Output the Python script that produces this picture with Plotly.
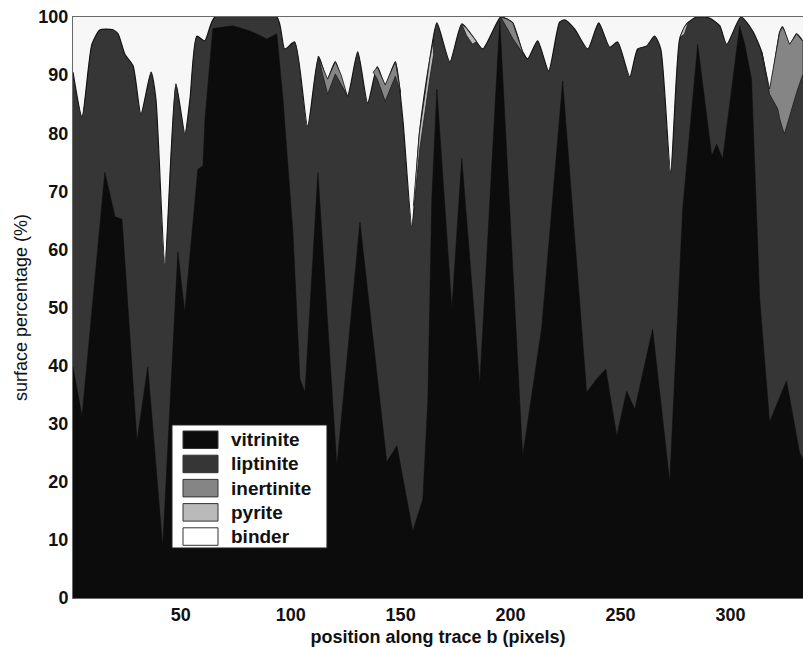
import plotly.graph_objects as go

# Position along trace b (pixels) and cumulative surface percentages.

# Upper edge of all macerals + pyrite (binder fills the rest up to 100 %)
top_x = [1.0, 5.1, 9.6, 13.3, 19.2, 21.5, 24.6, 28.3, 31.9, 36.5, 38.7, 42.8, 47.8,
         51.9, 54.2, 57.3, 60.9, 65.5, 93.7, 97.3, 101.8, 107.7, 112.7, 116.6, 120.3,
         125.8, 130.5, 135.0, 139.4, 143.0, 147.6, 151.0, 155.1, 158.6, 163.3, 166.5,
         172.4, 177.8, 182.7, 187.3, 195.5, 198.7, 201.0, 203.3, 205.5, 207.8, 212.3,
         217.3, 222.3, 224.6, 229.2, 235.1, 240.1, 245.1, 248.7, 254.2, 257.8, 261.9,
         265.5, 268.3, 272.8, 276.9, 280.1, 284.6, 290.5, 295.1, 298.3, 304.8, 310.1,
         314.2, 317.8, 322.4, 323.7, 326.9, 330.1, 333.0]
top_y = [90.5, 82.8, 95.3, 97.8, 97.8, 97.1, 93.6, 91.6, 83.3, 90.5, 85.9, 57.5, 88.5,
         79.9, 85.9, 96.7, 95.9, 100.0, 100.0, 94.5, 95.7, 81.2, 93.2, 89.3, 92.3,
         86.4, 94.0, 85.2, 91.4, 88.3, 92.3, 82.4, 64.0, 80.2, 92.8, 99.0,
         92.3, 98.8, 96.7, 94.5, 100.0, 99.6, 99.0, 96.6, 94.0, 92.8, 95.9,
         90.7, 99.1, 99.5, 97.9, 94.5, 99.0, 94.8, 95.7, 89.7, 94.5, 95.0,
         96.7, 94.5, 73.3, 96.2, 98.8, 100.0, 99.8, 98.5, 95.3, 100.0, 97.6,
         94.0, 87.6, 97.4, 98.3, 95.3, 97.1, 95.8]

# Vitrinite (bottom layer)
vit_x = [1.0, 5.1, 15.5, 20.1, 23.3, 30.1, 35.0, 41.8, 48.7, 51.8, 57.8, 60.1, 61.0,
         64.6, 73.7, 81.5, 89.2, 93.7, 96.5, 101.0, 104.2, 106.5, 112.4, 121.0, 131.5,
         143.7, 148.3, 155.5, 160.1, 162.4, 164.2, 166.5, 173.3, 177.8, 186.0, 195.1,
         205.5, 214.2, 223.7, 234.6, 239.2, 243.3, 248.3, 252.8, 256.5, 264.6, 272.4,
         278.3, 285.1, 291.5, 293.7, 296.5, 304.2, 306.5, 309.6, 313.3, 317.8, 325.5,
         331.4, 333.0]
vit_y = [39.8, 31.2, 73.3, 65.6, 65.2, 27.0, 39.8, 8.8, 59.6, 49.2, 73.8, 74.4, 82.4,
         98.0, 98.5, 97.6, 96.2, 97.1, 85.9, 63.0, 37.7, 35.4, 73.3, 22.7, 64.7,
         23.4, 26.2, 11.5, 17.0, 34.3, 68.7, 87.6, 49.7, 75.7, 36.8, 99.4,
         24.4, 46.6, 89.0, 35.4, 37.7, 39.4, 27.9, 35.6, 32.5, 46.3, 20.0,
         67.0, 95.3, 76.1, 78.1, 75.6, 98.5, 95.3, 89.3, 51.5, 30.3, 37.4,
         25.1, 23.9]

# Inertinite bands: position, upper edge, lower edge (top of liptinite)
inert_bands = [
    ([112.5, 114.5, 116.8, 120.3, 123.0, 125.6],
     [93.2, 91.5, 89.3, 92.3, 90.0, 86.6],
     [93.2, 90.0, 86.7, 90.2, 88.5, 86.6]),
    ([137.5, 139.4, 143.0, 147.6, 150.0],
     [90.5, 91.4, 88.3, 92.3, 87.0],
     [90.5, 89.3, 85.5, 89.8, 87.0]),
    ([195.5, 198.7, 201.0, 203.3, 205.5, 206.6],
     [100.0, 99.6, 99.0, 96.6, 94.0, 93.4],
     [100.0, 97.9, 96.3, 95.0, 93.8, 93.4]),
    ([314.2, 317.8, 321.5, 322.4, 323.7, 324.6, 326.9, 328.3, 330.1, 333.0],
     [94.0, 87.6, 95.5, 97.4, 98.3, 97.6, 95.3, 96.0, 97.1, 95.8],
     [94.0, 86.7, 84.2, 82.5, 80.8, 79.9, 82.8, 84.7, 87.0, 90.2]),
]

# Pyrite bands
pyrite_bands = [
    ([155.8, 158.6, 161.0, 163.3, 165.0],
     [67.5, 80.2, 86.5, 92.8, 96.1],
     [66.0, 77.0, 83.0, 89.5, 93.5]),
    ([177.8, 180.0, 182.7, 184.5],
     [98.8, 98.0, 96.7, 95.8],
     [98.8, 96.8, 95.3, 95.8]),
    ([277.0, 279.0, 281.0],
     [96.5, 98.3, 99.2],
     [96.5, 97.0, 99.2]),
]

names = ["vitrinite", "liptinite", "inertinite", "pyrite", "binder"]
colors = ["#0c0c0c", "#363636", "#858585", "#bababa", "#f7f7f7"]
x_ticks = [50, 100, 150, 200, 250, 300]
y_ticks = [0, 10, 20, 30, 40, 50, 60, 70, 80, 90, 100]

FONT = "Liberation Sans, Arial, Helvetica, sans-serif"

fig = go.Figure()

# binder: everything up to 100 %
fig.add_trace(go.Scatter(x=top_x, y=[100] * len(top_x), mode="lines",
                         line=dict(width=0), fill="tozeroy",
                         fillcolor=colors[4], showlegend=False, hoverinfo="skip"))

# liptinite up to the mineral edge
fig.add_trace(go.Scatter(x=top_x, y=top_y, mode="lines",
                         line=dict(color="#151515", width=1.2, shape="spline", smoothing=0.6),
                         fill="tozeroy", fillcolor=colors[1], showlegend=False,
                         name="liptinite"))


def band(xs, up, lo, color):
    fig.add_trace(go.Scatter(x=xs + xs[::-1], y=up + lo[::-1], mode="lines",
                             line=dict(color="#1c1c1c", width=0.8),
                             fill="toself", fillcolor=color, showlegend=False))


for xs, up, lo in inert_bands:
    band(xs, up, lo, colors[2])
for xs, up, lo in pyrite_bands:
    band(xs, up, lo, colors[3])

# vitrinite
fig.add_trace(go.Scatter(x=vit_x, y=vit_y, mode="lines",
                         line=dict(color=colors[0], width=0.5),
                         fill="tozeroy", fillcolor=colors[0], showlegend=False,
                         name="vitrinite"))

# legend box
shapes = []
annotations = []
box = dict(x0=0.1356, x1=0.3479, y0=0.0861, y1=0.2978)
shapes.append(dict(type="rect", xref="paper", yref="paper", **box,
                   fillcolor="white", line=dict(color="#222", width=1)))
row_h = 24.2 / 581
sw_h = 17.5 / 581
top_row = (598 - 431) / 581
for i, (nm, col) in enumerate(zip(names, colors)):
    y1 = top_row - i * row_h
    y0 = y1 - sw_h
    shapes.append(dict(type="rect", xref="paper", yref="paper",
                       x0=(183 - 73) / 730, x1=(218 - 73) / 730, y0=y0, y1=y1,
                       fillcolor=col if nm != "binder" else "white",
                       line=dict(color="#333", width=1)))
    annotations.append(dict(xref="paper", yref="paper", x=(229 - 73) / 730,
                            y=(y0 + y1) / 2, text=nm, showarrow=False,
                            xanchor="left", yanchor="middle",
                            font=dict(family=FONT, size=19, color="#111", weight="bold")))

fig.update_layout(
    width=803, height=647,
    margin=dict(l=73, r=0, t=17, b=49),
    paper_bgcolor="white", plot_bgcolor="white",
    shapes=shapes, annotations=annotations,
    showlegend=False,
    xaxis=dict(range=[1, 333], tickvals=x_ticks, ticktext=[str(v) for v in x_ticks],
               showgrid=False, zeroline=False, showline=True, mirror=True,
               linecolor="#6a6a6a", linewidth=1, ticks="",
               tickfont=dict(family=FONT, size=18, color="#111", weight="bold"),
               title=dict(text="position along trace b (pixels)", standoff=6,
                          font=dict(family=FONT, size=18, color="#111", weight="bold"))),
    yaxis=dict(range=[0, 100], tickvals=y_ticks, ticktext=[str(v) for v in y_ticks],
               showgrid=False, zeroline=False, showline=True,
               linecolor="#6a6a6a", linewidth=1, ticks="",
               tickfont=dict(family=FONT, size=18, color="#111", weight="bold"),
               title=dict(text="surface percentage (%)", standoff=6,
                          font=dict(family=FONT, size=18, color="#111"))),
)

fig.write_html("out.html")
